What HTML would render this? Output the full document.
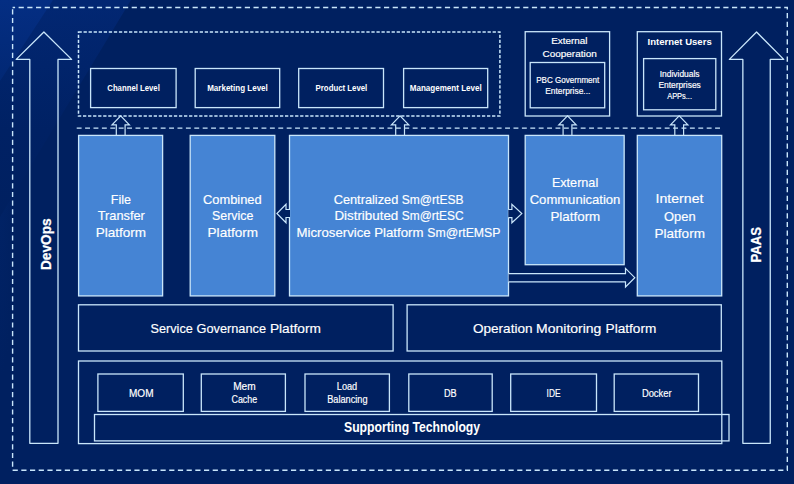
<!DOCTYPE html>
<html lang="en">
<head>
<meta charset="utf-8">
<title>Service Platform Architecture</title>
<style>
html,body{margin:0;padding:0;background:#002060;}
body{width:794px;height:484px;overflow:hidden;}
svg{display:block;}
svg text{font-family:"Liberation Sans",sans-serif;fill:#ffffff;}
svg text.n{stroke:#ffffff;stroke-width:0.18px;}
svg text.b{stroke:#ffffff;stroke-width:0.25px;}
</style>
</head>
<body>
<svg width="794" height="484" viewBox="0 0 794 484">
<defs>
<linearGradient id="gB" gradientUnits="userSpaceOnUse" x1="0" y1="0" x2="0" y2="217">
<stop offset="0" stop-color="#022773"/>
<stop offset="0.3" stop-color="#01246b"/>
<stop offset="0.6" stop-color="#002164"/>
<stop offset="1" stop-color="#002060"/>
</linearGradient>
<linearGradient id="gA" gradientUnits="userSpaceOnUse" x1="0" y1="0" x2="0" y2="81">
<stop offset="0" stop-color="#042e83"/>
<stop offset="1" stop-color="#022874"/>
</linearGradient>
<radialGradient id="ledge" gradientUnits="userSpaceOnUse" cx="0" cy="0" r="1" gradientTransform="translate(0 150) scale(16 230)">
<stop offset="0" stop-color="#012367"/>
<stop offset="1" stop-color="#012367" stop-opacity="0"/>
</radialGradient>
</defs>
<rect x="0" y="0" width="794" height="484" fill="#002060"/>
<rect x="0" y="0" width="16" height="484" fill="url(#ledge)"/>
<polygon points="0,0 131,0 0,217" fill="url(#gB)"/>
<polygon points="0,0 53,0 0,81" fill="url(#gA)"/>
<rect x="12.6" y="7.5" width="774.7" height="462.8" fill="none" stroke="#c9e6fb" stroke-width="1.4" stroke-dasharray="5.2 3.5" stroke-dashoffset="2.7"/>
<rect x="78.5" y="31.9" width="421.4" height="84.1" fill="none" stroke="#c9e6fb" stroke-width="1.5" stroke-dasharray="3.3 1.75"/>
<line x1="76.7" y1="128.1" x2="721.5" y2="128.1" stroke="#c9e6fb" stroke-width="1.3" stroke-dasharray="4.9 3.5"/>
<polygon points="43.9,32.0 71.6,59.4 58.0,59.4 58.0,443.3 29.8,443.3 29.8,59.4 16.2,59.4" fill="none" stroke="#c9e6fb" stroke-width="1.3" stroke-linejoin="round"/>
<polygon points="756.55,32.0 783.75,59.4 770.25,59.4 770.25,443.3 742.85,443.3 742.85,59.4 729.35,59.4" fill="none" stroke="#c9e6fb" stroke-width="1.3" stroke-linejoin="round"/>
<rect x="90.6" y="68.5" width="85.5" height="39.1" fill="none" stroke="#c9e6fb" stroke-width="1.3"/>
<rect x="195.2" y="68.5" width="84.5" height="39.1" fill="none" stroke="#c9e6fb" stroke-width="1.3"/>
<rect x="298.7" y="68.5" width="84.8" height="39.1" fill="none" stroke="#c9e6fb" stroke-width="1.3"/>
<rect x="403.6" y="68.5" width="84.1" height="39.1" fill="none" stroke="#c9e6fb" stroke-width="1.3"/>
<rect x="525.2" y="31.7" width="84.4" height="84.3" fill="none" stroke="#c9e6fb" stroke-width="1.3"/>
<rect x="530.2" y="62.5" width="74.5" height="45.3" fill="none" stroke="#c9e6fb" stroke-width="1.3"/>
<rect x="637.3" y="31.7" width="84.2" height="84.3" fill="none" stroke="#c9e6fb" stroke-width="1.3"/>
<rect x="643.6" y="58.6" width="72.2" height="51.2" fill="none" stroke="#c9e6fb" stroke-width="1.3"/>
<rect x="78.6" y="135.4" width="84.0" height="160.5" fill="#4584d4" stroke="#c9e6fb" stroke-width="1.3"/>
<rect x="190.2" y="135.4" width="84.6" height="160.5" fill="#4584d4" stroke="#c9e6fb" stroke-width="1.3"/>
<rect x="289.5" y="135.4" width="219.0" height="160.5" fill="#4584d4" stroke="#c9e6fb" stroke-width="1.3"/>
<rect x="525.2" y="135.4" width="98.95" height="129.3" fill="#4584d4" stroke="#c9e6fb" stroke-width="1.3"/>
<rect x="637.3" y="135.4" width="84.4" height="160.5" fill="#4584d4" stroke="#c9e6fb" stroke-width="1.3"/>
<polyline points="116.3,135.3 116.3,124.8 112.0,124.8 120.7,115.8 129.4,124.8 125.1,124.8 125.1,135.3" fill="none" stroke="#c9e6fb" stroke-width="1.2"/>
<polyline points="395.7,135.3 395.7,124.8 391.4,124.8 400.1,115.8 408.8,124.8 404.5,124.8 404.5,135.3" fill="none" stroke="#c9e6fb" stroke-width="1.2"/>
<polyline points="563.1,135.3 563.1,124.8 558.8,124.8 567.5,115.8 576.2,124.8 571.9,124.8 571.9,135.3" fill="none" stroke="#c9e6fb" stroke-width="1.2"/>
<polyline points="674.8,135.3 674.8,124.8 670.5,124.8 679.2,115.8 687.9,124.8 683.6,124.8 683.6,135.3" fill="none" stroke="#c9e6fb" stroke-width="1.2"/>
<polyline points="290.0,209.5 286.0,209.5 286.0,204.3 276.9,213.5 286.0,222.7 286.0,217.5 290.0,217.5" fill="#002060" stroke="#c9e6fb" stroke-width="1.2"/>
<polyline points="508.3,209.5 511.9,209.5 511.9,204.4 521.8,213.6 511.9,222.8 511.9,217.7 508.3,217.7" fill="#002060" stroke="#c9e6fb" stroke-width="1.2"/>
<polyline points="508.6,273.6 625.5,273.6 625.5,268.4 634.8,277.7 625.5,287.0 625.5,281.8 508.6,281.8" fill="#002060" stroke="#c9e6fb" stroke-width="1.2"/>
<rect x="78.5" y="304.8" width="314.6" height="46.2" fill="none" stroke="#c9e6fb" stroke-width="1.3"/>
<rect x="407.1" y="304.8" width="314.2" height="46.2" fill="none" stroke="#c9e6fb" stroke-width="1.3"/>
<rect x="78.5" y="361" width="643.3" height="82.6" fill="none" stroke="#c9e6fb" stroke-width="1.3"/>
<rect x="97.9" y="374.0" width="85.4" height="37.4" fill="none" stroke="#c9e6fb" stroke-width="1.3"/>
<rect x="201.3" y="374.0" width="84.1" height="37.4" fill="none" stroke="#c9e6fb" stroke-width="1.3"/>
<rect x="305.0" y="374.0" width="84.4" height="37.4" fill="none" stroke="#c9e6fb" stroke-width="1.3"/>
<rect x="408.8" y="374.0" width="83.4" height="37.4" fill="none" stroke="#c9e6fb" stroke-width="1.3"/>
<rect x="510.7" y="374.0" width="85.8" height="37.4" fill="none" stroke="#c9e6fb" stroke-width="1.3"/>
<rect x="614.2" y="374.0" width="84.3" height="37.4" fill="none" stroke="#c9e6fb" stroke-width="1.3"/>
<rect x="94.5" y="414.5" width="634.5" height="26.4" fill="none" stroke="#c9e6fb" stroke-width="1.3"/>
<text x="107.3" y="90.97" font-size="9.2" font-weight="bold" textLength="52.5" lengthAdjust="spacingAndGlyphs">Channel Level</text>
<text x="207.2" y="90.97" font-size="9.2" font-weight="bold" textLength="60.6" lengthAdjust="spacingAndGlyphs">Marketing Level</text>
<text x="315.6" y="90.97" font-size="9.2" font-weight="bold" textLength="51.7" lengthAdjust="spacingAndGlyphs">Product Level</text>
<text x="409.8" y="90.97" font-size="9.2" font-weight="bold" textLength="71.9" lengthAdjust="spacingAndGlyphs">Management Level</text>
<text x="551.2" y="43.54" font-size="9.7" class="n" textLength="36.3" lengthAdjust="spacingAndGlyphs">External</text>
<text x="542.5" y="56.94" font-size="9.7" class="n" textLength="54.3" lengthAdjust="spacingAndGlyphs">Cooperation</text>
<text x="536.2" y="82.69" font-size="8.7" class="n" textLength="63.1" lengthAdjust="spacingAndGlyphs">PBC Government</text>
<text x="545.2" y="93.59" font-size="8.7" class="n" textLength="45.1" lengthAdjust="spacingAndGlyphs">Enterprise...</text>
<text x="647.6" y="45.34" font-size="9.7" font-weight="bold" textLength="64.1" lengthAdjust="spacingAndGlyphs">Internet Users</text>
<text x="659.7" y="77.09" font-size="8.7" class="n" textLength="39.9" lengthAdjust="spacingAndGlyphs">Individuals</text>
<text x="658.4" y="87.99" font-size="8.7" class="n" textLength="42.4" lengthAdjust="spacingAndGlyphs">Enterprises</text>
<text x="667.2" y="98.79" font-size="8.7" class="n" textLength="24.8" lengthAdjust="spacingAndGlyphs">APPs...</text>
<text x="110.8" y="203.99" font-size="13.2" class="n" textLength="20.2" lengthAdjust="spacingAndGlyphs">File</text>
<text x="97.7" y="219.99" font-size="13.2" class="n" textLength="47.1" lengthAdjust="spacingAndGlyphs">Transfer</text>
<text x="95.7" y="236.99" font-size="13.2" class="n" textLength="50.3" lengthAdjust="spacingAndGlyphs">Platform</text>
<text x="203" y="203.99" font-size="13.2" class="n" textLength="58.7" lengthAdjust="spacingAndGlyphs">Combined</text>
<text x="212.1" y="219.99" font-size="13.2" class="n" textLength="41.3" lengthAdjust="spacingAndGlyphs">Service</text>
<text x="207.6" y="236.99" font-size="13.2" class="n" textLength="50.4" lengthAdjust="spacingAndGlyphs">Platform</text>
<text x="551.9" y="186.99" font-size="13.2" class="n" textLength="46.3" lengthAdjust="spacingAndGlyphs">External</text>
<text x="529.7" y="203.89" font-size="13.2" class="n" textLength="90.7" lengthAdjust="spacingAndGlyphs">Communication</text>
<text x="550.4" y="220.99" font-size="13.2" class="n" textLength="49.9" lengthAdjust="spacingAndGlyphs">Platform</text>
<text x="655.6" y="202.69" font-size="13.2" class="n" textLength="47.8" lengthAdjust="spacingAndGlyphs">Internet</text>
<text x="664" y="220.99" font-size="13.2" class="n" textLength="31.6" lengthAdjust="spacingAndGlyphs">Open</text>
<text x="654.6" y="237.59" font-size="13.2" class="n" textLength="50.3" lengthAdjust="spacingAndGlyphs">Platform</text>
<text y="203.99" font-size="13.2" class="n"><tspan x="333.7" textLength="64.6" lengthAdjust="spacingAndGlyphs">Centralized</tspan> <tspan x="401.8" textLength="61.8" lengthAdjust="spacingAndGlyphs">Sm@rtESB</tspan></text>
<text y="219.89" font-size="13.2" class="n"><tspan x="334.4" textLength="63.9" lengthAdjust="spacingAndGlyphs">Distributed</tspan> <tspan x="401.8" textLength="61.8" lengthAdjust="spacingAndGlyphs">Sm@rtESC</tspan></text>
<text y="237.09" font-size="13.2" class="n"><tspan x="296.6" textLength="74.0" lengthAdjust="spacingAndGlyphs">Microservice</tspan> <tspan x="374.2" textLength="49.3" lengthAdjust="spacingAndGlyphs">Platform</tspan> <tspan x="427.3" textLength="73.2" lengthAdjust="spacingAndGlyphs">Sm@rtEMSP</tspan></text>
<text y="333.09" font-size="13.2" class="n"><tspan x="150.6" textLength="42.2" lengthAdjust="spacingAndGlyphs">Service</tspan> <tspan x="196.5" textLength="69.5" lengthAdjust="spacingAndGlyphs">Governance</tspan> <tspan x="269.9" textLength="51.0" lengthAdjust="spacingAndGlyphs">Platform</tspan></text>
<text y="333.09" font-size="13.2" class="n"><tspan x="473" textLength="59.5" lengthAdjust="spacingAndGlyphs">Operation</tspan> <tspan x="536.1" textLength="65.3" lengthAdjust="spacingAndGlyphs">Monitoring</tspan> <tspan x="605.6" textLength="50.7" lengthAdjust="spacingAndGlyphs">Platform</tspan></text>
<text x="129" y="396.55" font-size="10" class="n" textLength="24.5" lengthAdjust="spacingAndGlyphs">MOM</text>
<text x="233.2" y="390.15" font-size="10" class="n" textLength="22.5" lengthAdjust="spacingAndGlyphs">Mem</text>
<text x="231.5" y="402.75" font-size="10" class="n" textLength="25.7" lengthAdjust="spacingAndGlyphs">Cache</text>
<text x="336.8" y="390.15" font-size="10" class="n" textLength="20.4" lengthAdjust="spacingAndGlyphs">Load</text>
<text x="327.2" y="402.75" font-size="10" class="n" textLength="40.3" lengthAdjust="spacingAndGlyphs">Balancing</text>
<text x="444" y="396.55" font-size="10" class="n" textLength="12.7" lengthAdjust="spacingAndGlyphs">DB</text>
<text x="546.6" y="396.55" font-size="10" class="n" textLength="13.9" lengthAdjust="spacingAndGlyphs">IDE</text>
<text x="641.9" y="396.55" font-size="10" class="n" textLength="29.7" lengthAdjust="spacingAndGlyphs">Docker</text>
<text x="344" y="431.94" font-size="14.2" font-weight="bold" textLength="136.1" lengthAdjust="spacingAndGlyphs">Supporting Technology</text>
<text transform="translate(50.83 270.1) rotate(-90)" x="0" y="0" font-size="15" font-weight="bold" class="b" textLength="51.8" lengthAdjust="spacingAndGlyphs">DevOps</text>
<text transform="translate(761.43 262.4) rotate(-90)" x="0" y="0" font-size="15" font-weight="bold" class="b" textLength="35.4" lengthAdjust="spacingAndGlyphs">PAAS</text>
</svg>
</body>
</html>
